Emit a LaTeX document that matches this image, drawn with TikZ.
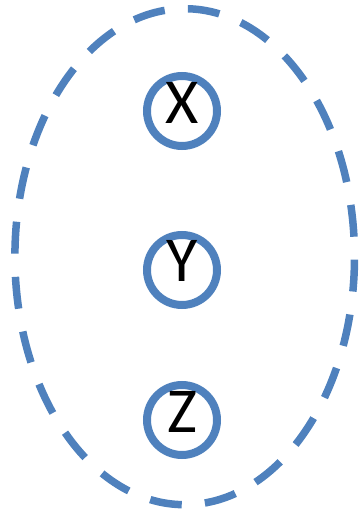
\documentclass[tikz,border=0pt]{standalone}
\usepackage{fontspec}
\setmainfont{Carlito}
\definecolor{ofblue}{HTML}{4F81BD}
\usetikzlibrary{shapes.geometric}
\tikzset{
  ring/.style={circle, draw=ofblue, line width=8pt, minimum size=70pt, inner sep=0pt},
  lettr/.style={anchor=base, inner sep=0pt, font=\fontsize{64}{64}\selectfont, text=black},
  outer/.style={ellipse, draw=ofblue, line width=7.5pt, dash pattern=on 32pt off 23.19pt, dash phase=35.2pt, minimum width=339.6pt, minimum height=496pt, inner sep=0pt}
}
\begin{document}
\begin{tikzpicture}[x=1pt,y=-1pt]
\useasboundingbox (0,0) rectangle (361,516);
\node[outer] (group) at (184.7,256.7) {};
\node[ring] (x) at (182,111) {};
\node[ring] (y) at (182,270) {};
\node[ring] (z) at (182,420) {};
\node[lettr] (xl) at (182,123) {X};
\node[lettr] (yl) at (182,281) {Y};
\node[lettr] (zl) at (182,432) {Z};
\end{tikzpicture}
\end{document}
